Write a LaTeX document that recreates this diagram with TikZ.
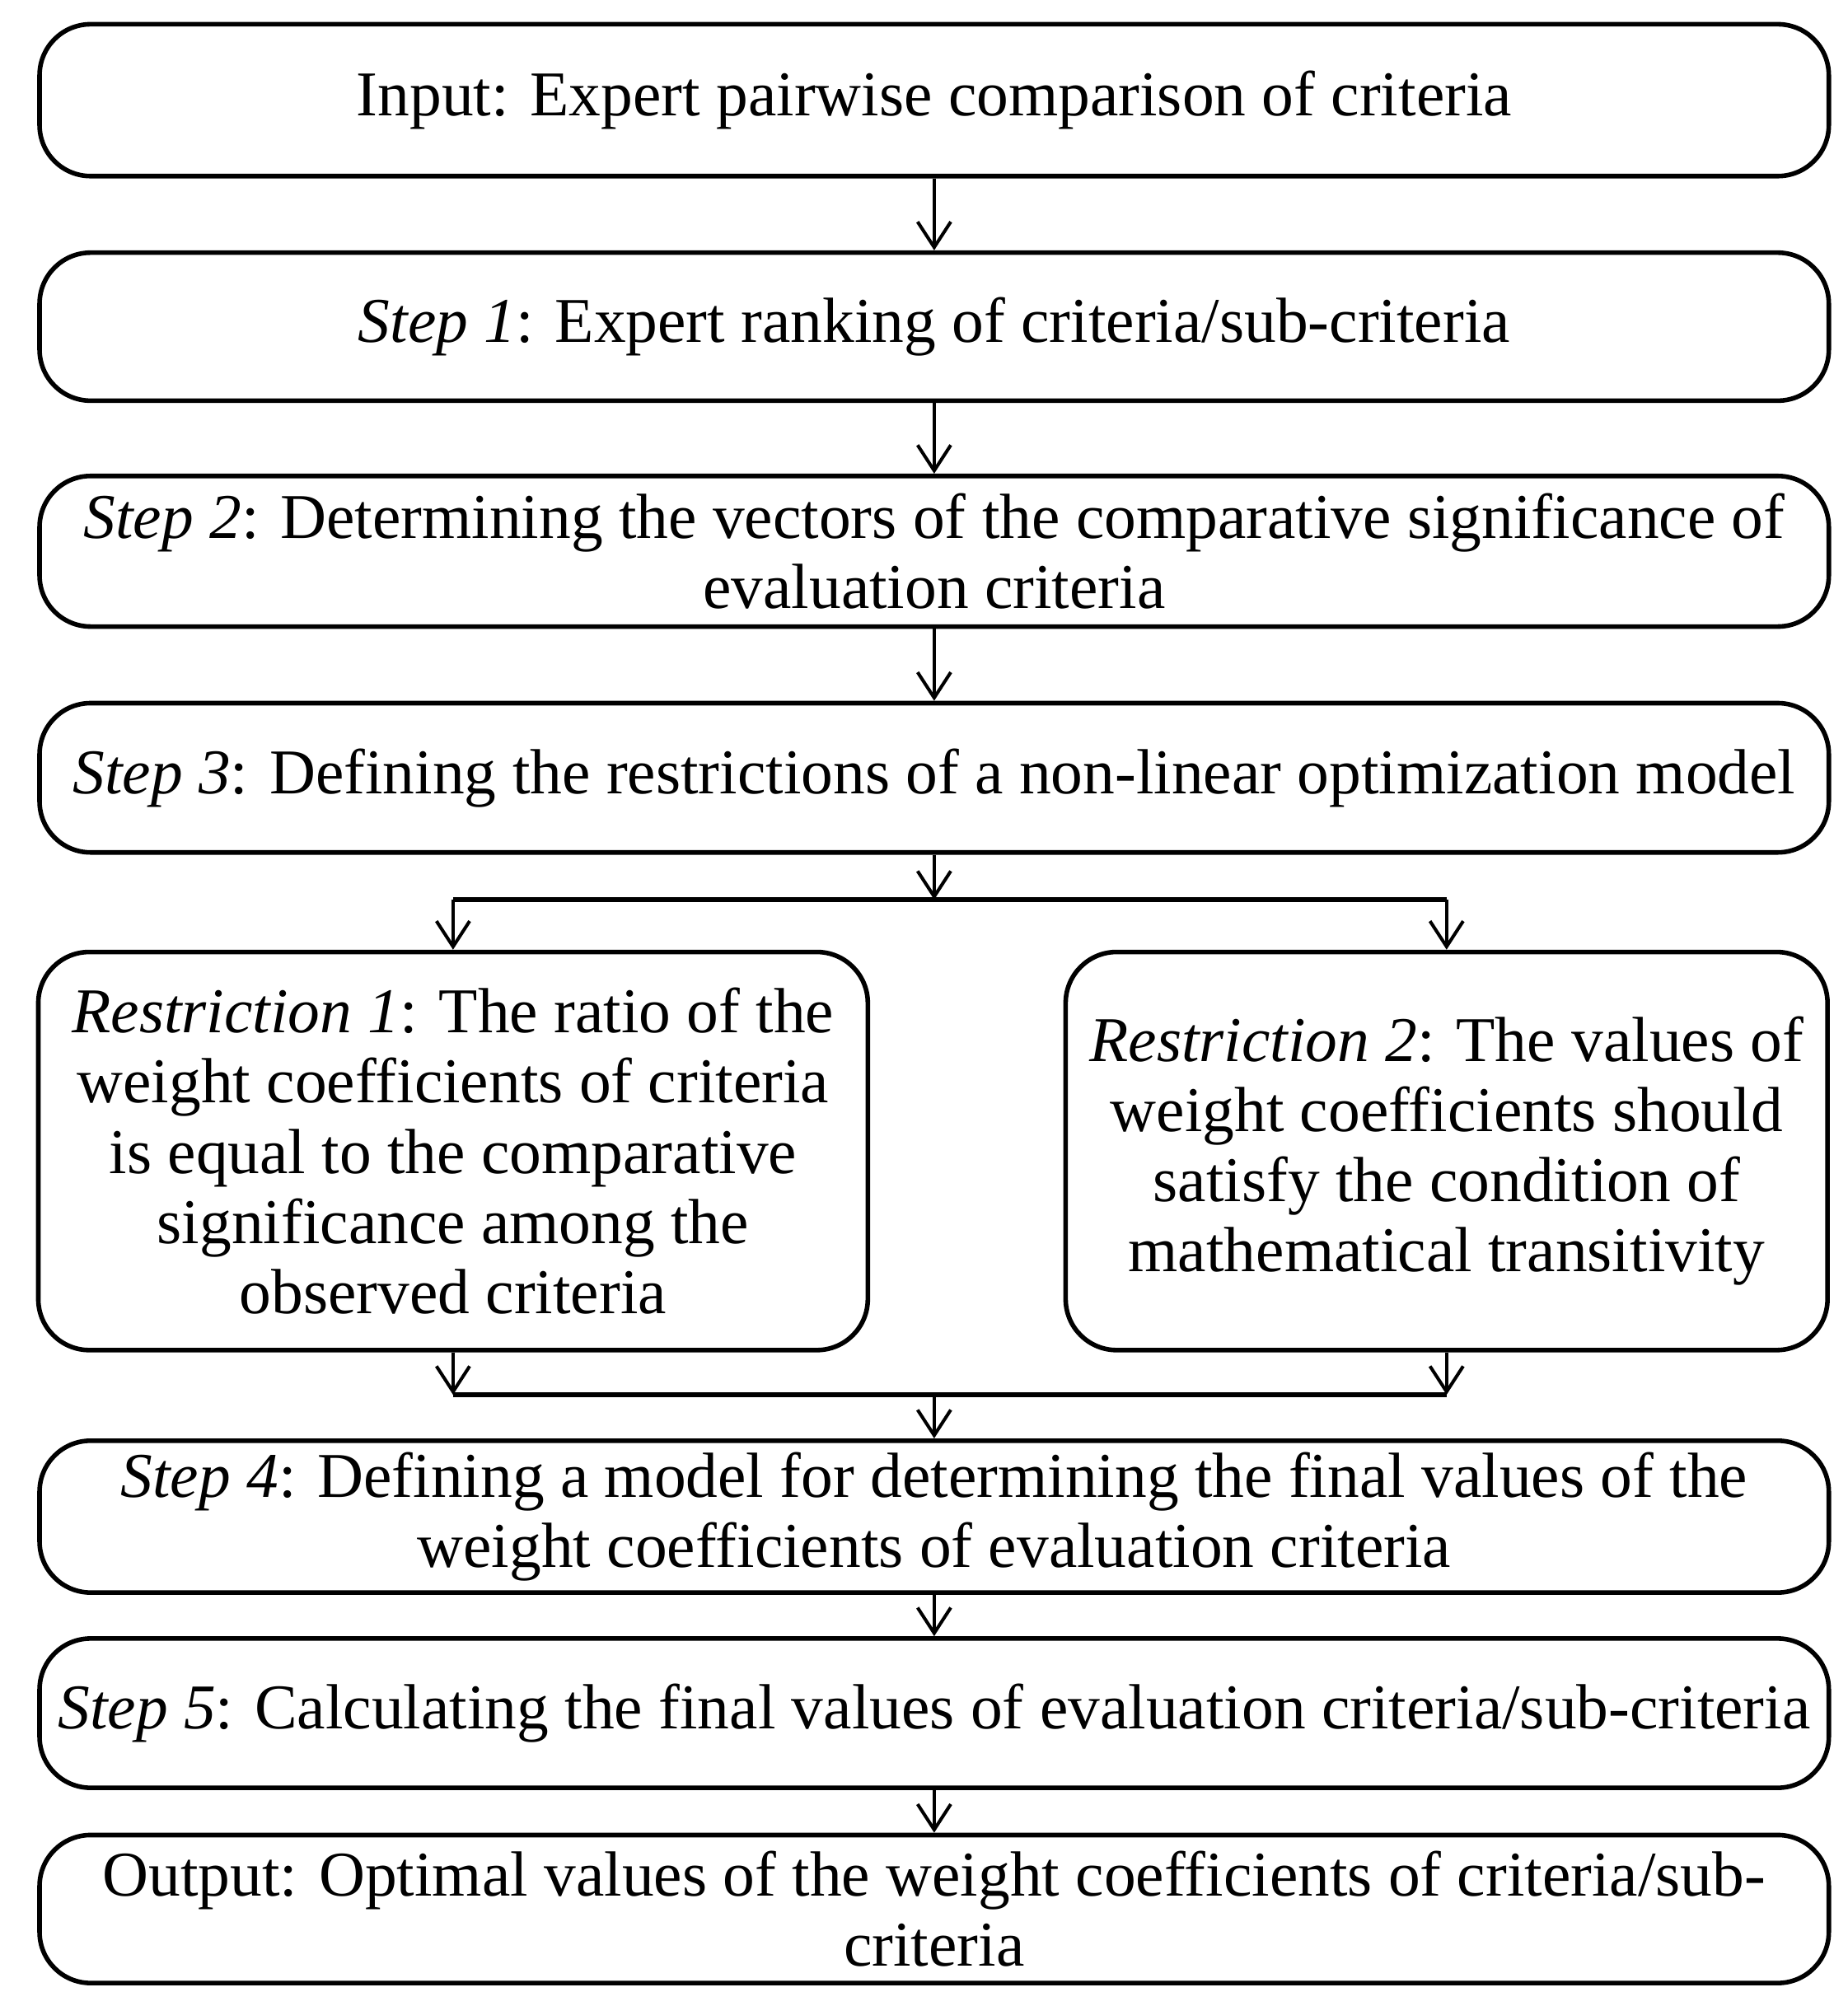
\documentclass[tikz,border=0pt]{standalone}
\usepackage{fontspec}
\setmainfont{Liberation Serif}
\usetikzlibrary{arrows.meta}
\begin{document}
\begin{tikzpicture}[x=0.5pt,y=-0.5pt,
  box/.style={draw, line width=1.8pt, rounded corners=20pt, inner sep=0pt, align=center,
    font=\fontsize{25}{27.5}\selectfont},
  wide/.style={box, minimum width=701pt},
  arr/.style={line width=1.3pt, -{Straight Barb[length=10pt,width=13pt,line width=1.3pt]}},
  ln/.style={line width=1.7pt}]
\useasboundingbox (0,0) rectangle (1448,1572);
\node[wide, minimum height=59.5pt] (b0) at (732,78.5) {Input: Expert pairwise comparison of criteria};
\node[wide, minimum height=58pt] (b1) at (732,256) {\textit{Step 1}: Expert ranking of criteria/sub-criteria};
\node[wide, minimum height=59pt] (b2) at (732,432) {\textit{Step 2}: Determining the vectors of the comparative significance of\\ evaluation criteria};
\node[wide, minimum height=58.5pt] (b3) at (732,609.5) {\textit{Step 3}: Defining the restrictions of a non-linear optimization model};
\node[box, minimum width=325pt, minimum height=156pt] (r1) at (355,902) {\textit{Restriction 1}: The ratio of the\\ weight coefficients of criteria\\ is equal to the comparative\\ significance among the\\ observed criteria};
\node[box, minimum width=298.5pt, minimum height=156pt] (r2) at (1133.5,902) {\textit{Restriction 2}: The values of\\ weight coefficients should\\ satisfy the condition of\\ mathematical transitivity};
\node[wide, minimum height=59.5pt] (b4) at (732,1188.5) {\textit{Step 4}: Defining a model for determining the final values of the\\ weight coefficients of evaluation criteria};
\node[wide, minimum height=58.5pt] (b5) at (732,1342.5) {\textit{Step 5}: Calculating the final values of evaluation criteria/sub-criteria};
\node[wide, minimum height=58pt] (b6) at (732,1496) {Output: Optimal values of the weight coefficients of criteria/sub-\\ criteria};
\draw[arr] (b0) -- (b1);
\draw[arr] (b1) -- (b2);
\draw[arr] (b2) -- (b3);
\coordinate (j1) at (732,705);
\coordinate (j1l) at (r1.north |- j1);
\coordinate (j1r) at (r2.north |- j1);
\draw[arr] (b3) -- (j1);
\draw[ln] (j1l) -- (j1r);
\draw[arr] (j1l) -- (r1);
\draw[arr] (j1r) -- (r2);
\coordinate (j2) at (732,1093);
\coordinate (j2l) at (r1.south |- j2);
\coordinate (j2r) at (r2.south |- j2);
\draw[arr] (r1) -- (j2l);
\draw[arr] (r2) -- (j2r);
\draw[ln] (j2l) -- (j2r);
\draw[arr] (j2) -- (b4);
\draw[arr] (b4) -- (b5);
\draw[arr] (b5) -- (b6);
\end{tikzpicture}
\end{document}
